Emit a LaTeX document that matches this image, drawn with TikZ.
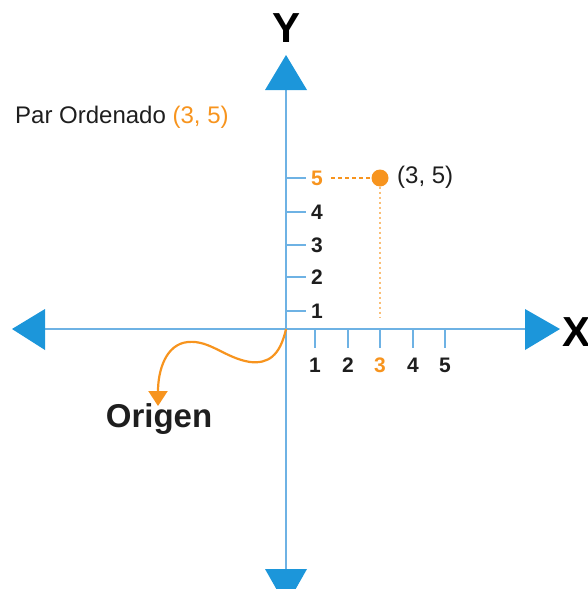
\documentclass[tikz,border=0pt]{standalone}
\usepackage{fontspec}
\setmainfont{Liberation Sans}
\usetikzlibrary{arrows.meta}
\definecolor{axisblue}{RGB}{110,178,228}
\definecolor{headblue}{RGB}{28,150,218}
\definecolor{orng}{RGB}{247,148,30}
\definecolor{txt}{RGB}{30,30,30}
\tikzset{
  axisline/.style={draw=axisblue,line width=2pt},
  head/.style={fill=headblue,draw=none},
  ticky/.style={draw=axisblue,line width=1.8pt},
  ticklbl/.style={font=\fontsize{21}{21}\selectfont\bfseries,text=txt,inner sep=0pt},
  plain/.style={font=\fontsize{24}{24}\selectfont,text=txt,inner sep=0pt},
  axlbl/.style={font=\fontsize{42}{42}\selectfont\bfseries,text=black,inner sep=0pt},
}
\begin{document}
\begin{tikzpicture}[x=1pt,y=-1pt]
\path[use as bounding box] (0,0) rectangle (587,589);
\clip (0,0) rectangle (587,589);
% axes
\coordinate (top) at (286,90);
\coordinate (bot) at (286,575);
\coordinate (lft) at (45,329);
\coordinate (rgt) at (525,329);
\coordinate (O) at (286,329);
\draw[axisline] (top) -- (bot);
\draw[axisline] (lft) -- (rgt);
\fill[head] (286,55) -- (265,90) -- (307,90) -- cycle;
\fill[head] (12,329) -- (45,309) -- (45,350) -- cycle;
\fill[head] (560,329) -- (525,309) -- (525,350) -- cycle;
\fill[head] (265,569) -- (307,569) -- (286,606) -- cycle;
% axis labels
\node[axlbl] (Y) at (287,28) {Y};
\node[axlbl,anchor=west] (X) at (562,332) {X};
% y ticks
\foreach \v/\yy in {1/311,2/277,3/245,4/212}{
  \draw[ticky] (286,\yy) -- (306,\yy);
  \node[ticklbl] (ly\v) at (317,\yy) {\v};
}
\draw[ticky] (286,178) -- (306,178);
\node[ticklbl,text=orng] (ly5) at (317,178) {5};
% x ticks
\foreach \v/\xx in {1/315,2/348,4/413,5/445}{
  \draw[ticky] (\xx,329) -- (\xx,348);
  \node[ticklbl] (lx\v) at (\xx,365) {\v};
}
\draw[ticky] (380,329) -- (380,348);
\node[ticklbl,text=orng] (lx3) at (380,365) {3};
% point
\node[circle,fill=orng,minimum size=17pt,inner sep=0pt] (P) at (380,178) {};
\coordinate (hstart) at (331,178);
\coordinate (vend) at (380,318);
\draw[orng,line width=1.3pt,dash pattern=on 4pt off 3pt] (hstart) -- (P.west);
\draw[orng!60,line width=1.5pt,dash pattern=on 2pt off 3pt] (P.south) -- (vend);
\node[plain,anchor=west] (Plbl) at (397,177) {(3, 5)};
% title
\node[plain,anchor=west] (title) at (15,117) {Par Ordenado \textcolor{orng}{(3, 5)}};
% origin
\node[font=\fontsize{33}{33}\selectfont\bfseries,text=txt,inner sep=0pt] (org) at (159,419) {Origen};
\draw[orng,line width=2.2pt,-{Triangle[width=19pt,length=15pt]}]
  (O) .. controls (280,356) and (268,364) .. (250,362)
      .. controls (225,358) and (210,340) .. (188,342)
      .. controls (166,344) and (158,370) .. (158,406);
\end{tikzpicture}
\end{document}
